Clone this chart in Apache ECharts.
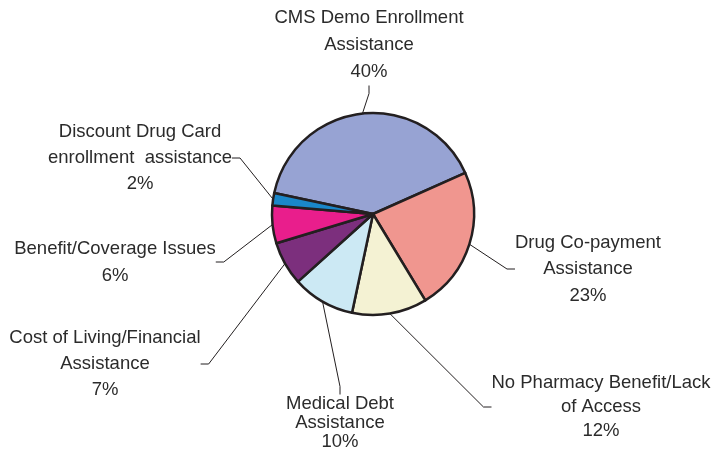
<!DOCTYPE html>
<html>
<head>
<meta charset="utf-8">
<script src="https://cdn.jsdelivr.net/npm/echarts@6/dist/echarts.min.js"></script>
<style>html,body{margin:0;padding:0;background:#fff}#c{width:718px;height:451px}</style>
</head>
<body>
<div id="c"></div>
<script>
// Data (clockwise from the left edge of the largest slice)
const categories = [
  'CMS Demo Enrollment Assistance',
  'Drug Co-payment Assistance',
  'No Pharmacy Benefit/Lack of Access',
  'Medical Debt Assistance',
  'Cost of Living/Financial Assistance',
  'Benefit/Coverage Issues',
  'Discount Drug Card enrollment assistance'
];
const labelTexts = [
  'CMS Demo Enrollment\nAssistance',
  'Drug Co-payment\nAssistance',
  'No Pharmacy Benefit/Lack\nof Access',
  'Medical Debt\nAssistance',
  'Cost of Living/Financial\nAssistance',
  'Benefit/Coverage Issues',
  'Discount Drug Card\nenrollment  assistance'
];
const percents = [40, 23, 12, 10, 7, 6, 2];

// Styling (kept separate from data)
const colors = ['#97a3d3', '#f0968f', '#f4f2d3', '#cce9f4', '#7c2f7d', '#e91e8c', '#1a87c9'];
const labelLayoutPos = [
  [369, 45, 27],
  [588, 269, 26.5],
  [601, 407, 24],
  [340, 423, 19],
  [105, 364, 26],
  [115, 262, 27],
  [140, 158, 26]
];

const chart = echarts.init(document.getElementById('c'));
chart.setOption({
  animation: false,
  backgroundColor: '#ffffff',
  series: [{
    type: 'pie',
    center: [373, 214],
    radius: [0, 101],
    startAngle: 168,
    clockwise: true,
    avoidLabelOverlap: false,
    itemStyle: { borderColor: '#231f20', borderWidth: 2.5 },
    label: {
      show: true,
      position: 'outside',
      color: '#2b2b2b',
      fontFamily: 'Liberation Sans, Arial, sans-serif',
      fontSize: 18.5,
      align: 'center'
    },
    labelLine: {
      show: true,
      length: 10,
      length2: 8,
      smooth: false,
      lineStyle: { color: '#231f20', width: 1 }
    },
    labelLayout: function (params) {
      const p = labelLayoutPos[params.dataIndex];
      return { x: p[0], y: p[1], align: 'center', verticalAlign: 'middle' };
    },
    data: categories.map(function (name, i) {
      return {
        name: name,
        value: percents[i],
        itemStyle: { color: colors[i] },
        label: {
          formatter: labelTexts[i] + '\n' + percents[i] + '%',
          lineHeight: labelLayoutPos[i][2]
        }
      };
    })
  }]
});
</script>
</body>
</html>
